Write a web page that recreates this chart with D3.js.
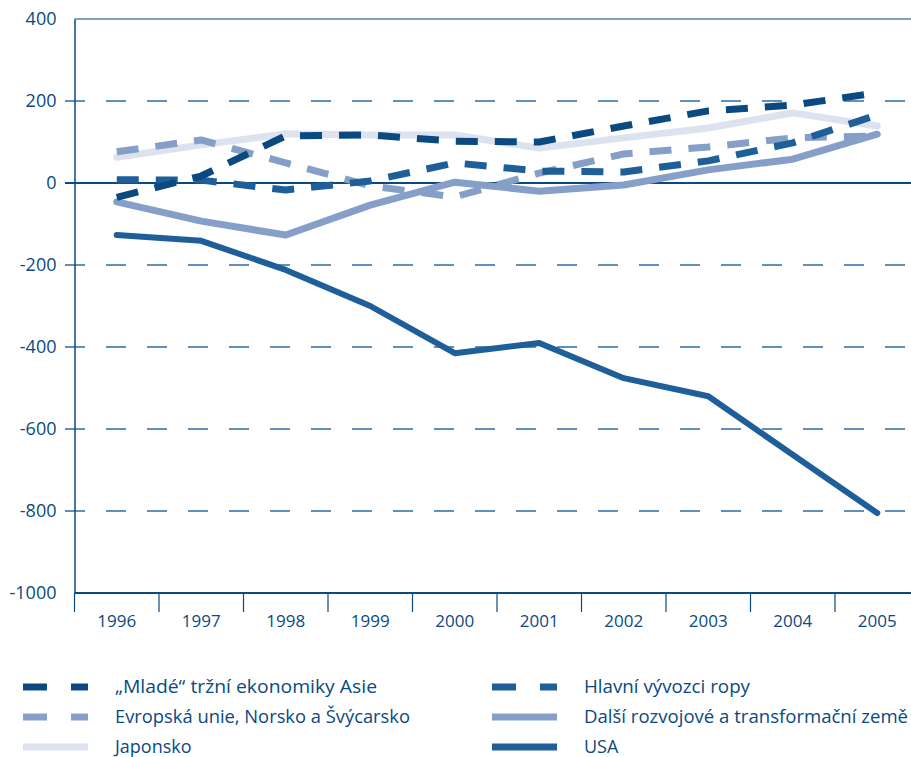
<!DOCTYPE html>
<html><head><meta charset="utf-8">
<script src="https://cdn.jsdelivr.net/npm/d3@7"></script>
<style>body{margin:0;background:#fff;} svg{display:block;font-family:"Open Sans","Noto Sans",sans-serif;}</style>
</head><body>
<svg id="c" width="911" height="757"></svg>
<script>
const years = ["1996","1997","1998","1999","2000","2001","2002","2003","2004","2005"];
const yTicks = [400,200,0,-200,-400,-600,-800,-1000];
const asia   = [-35, 17, 115, 117, 102, 100, 139, 176, 190, 220];
const eu     = [76, 105, 49, -7, -34, 24, 71, 88, 110, 115];
const japan  = [63, 93, 120, 117, 117, 85, 110, 134, 171, 139];
const oil    = [8, 7, -17, 5, 49, 29, 27, 54, 98, 166];
const other  = [-46, -93, -127, -54, 2, -20, -5, 32, 58, 119];
const usa    = [-127, -141, -212, -300, -415, -390, -476, -520, -663, -805];
const names = ["„Mladé“ tržní ekonomiky Asie","Evropská unie, Norsko a Švýcarsko","Japonsko","Hlavní vývozci ropy","Další rozvojové a transformační země","USA"];

const series = [
  {name:names[2], v:japan, color:"#dde2ef", dash:null, w:7, cap:"round"},
  {name:names[4], v:other, color:"#869fc8", dash:null, w:7, cap:"round"},
  {name:names[1], v:eu, color:"#869fc8", dash:"22,17", w:7, cap:"butt"},
  {name:names[3], v:oil, color:"#1f5f99", dash:"22,17", w:7, cap:"butt"},
  {name:names[0], v:asia, color:"#0a4a80", dash:"22,17", w:7, cap:"butt"},
  {name:names[5], v:usa, color:"#1f5f99", dash:null, w:6, cap:"round"}
];

const svg = d3.select("#c");
const L = 74.5, R = 919.5, T = 19, B = 593;
const x = d3.scaleBand().domain(years).range([L, R]);
const y = d3.scaleLinear().domain([-1000, 400]).range([B, T]);
const navy = "#0a4a80";

// grid
svg.append("g").selectAll("line").data([200,-200,-400,-600,-800]).join("line")
  .attr("x1", 65).attr("x2", 911).attr("y1", d=>y(d)).attr("y2", d=>y(d))
  .attr("stroke", "#2e6ea5").attr("stroke-width", 1.3).attr("stroke-dasharray", "20,21");

// top frame line
svg.append("line").attr("x1", L).attr("x2", 911).attr("y1", y(400)).attr("y2", y(400))
  .attr("stroke", "#5583b0").attr("stroke-width", 1.5);
// zero line
svg.append("line").attr("x1", 65).attr("x2", 911).attr("y1", y(0)).attr("y2", y(0))
  .attr("stroke", navy).attr("stroke-width", 2);

// y axis
const ya = svg.append("g").attr("transform", `translate(${L},0)`)
  .call(d3.axisLeft(y).tickValues(yTicks).tickSize(0).tickPadding(18).tickFormat(d=>String(d)));
ya.select(".domain").attr("stroke", navy).attr("stroke-width", 1.5);
ya.selectAll("text").attr("fill", navy).attr("font-size", 18).attr("font-family", "Open Sans, sans-serif");

// x axis
const xa = svg.append("g").attr("transform", `translate(0,${B})`)
  .call(d3.axisBottom(x).tickSize(0).tickPadding(22));
xa.select(".domain").attr("stroke", navy).attr("stroke-width", 2).attr("d", `M${L},0H911`);
xa.selectAll("text").attr("fill", navy).attr("font-size", 17).attr("font-family", "Open Sans, sans-serif");
// x tick marks at band boundaries
svg.append("g").selectAll("line").data(years).join("line")
  .attr("x1", d=>x(d)).attr("x2", d=>x(d)).attr("y1", B).attr("y2", B+19)
  .attr("stroke", navy).attr("stroke-width", 1.2);

// lines
const line = d3.line().x((d,i)=>x(years[i]) + x.bandwidth()/2).y(d=>y(d));
svg.append("g").selectAll("path").data(series).join("path")
  .attr("d", d=>line(d.v)).attr("fill","none")
  .attr("stroke", d=>d.color).attr("stroke-width", d=>d.w)
  .attr("stroke-dasharray", d=>d.dash).attr("stroke-linecap", d=>d.cap)
  .attr("stroke-linejoin","round");

// legend
const legend = [
  {name:names[0], color:"#0a4a80", dash:true, col:0, row:0},
  {name:names[1], color:"#869fc8", dash:true, col:0, row:1},
  {name:names[2], color:"#dde2ef", dash:false, col:0, row:2},
  {name:names[3], color:"#1f5f99", dash:true, col:1, row:0},
  {name:names[4], color:"#869fc8", dash:false, col:1, row:1},
  {name:names[5], color:"#1f5f99", dash:false, col:1, row:2}
];
const lg = svg.append("g").selectAll("g").data(legend).join("g")
  .attr("transform", d=>`translate(${d.col ? 492 : 23},${687 + d.row*30})`);
lg.append("line").attr("x1",0).attr("x2",65).attr("y1",0).attr("y2",0)
  .attr("stroke", d=>d.color).attr("stroke-width", 7)
  .attr("stroke-dasharray", d=>d.dash ? "24,24" : null);
lg.append("text").attr("x", 92).attr("y", 0).attr("dy","0.33em")
  .attr("fill", navy).attr("font-size", 18).attr("textLength", (d,i)=>[262,295,null,166,324,null][i])
  .attr("lengthAdjust","spacingAndGlyphs").text(d=>d.name);
</script>
</body></html>
